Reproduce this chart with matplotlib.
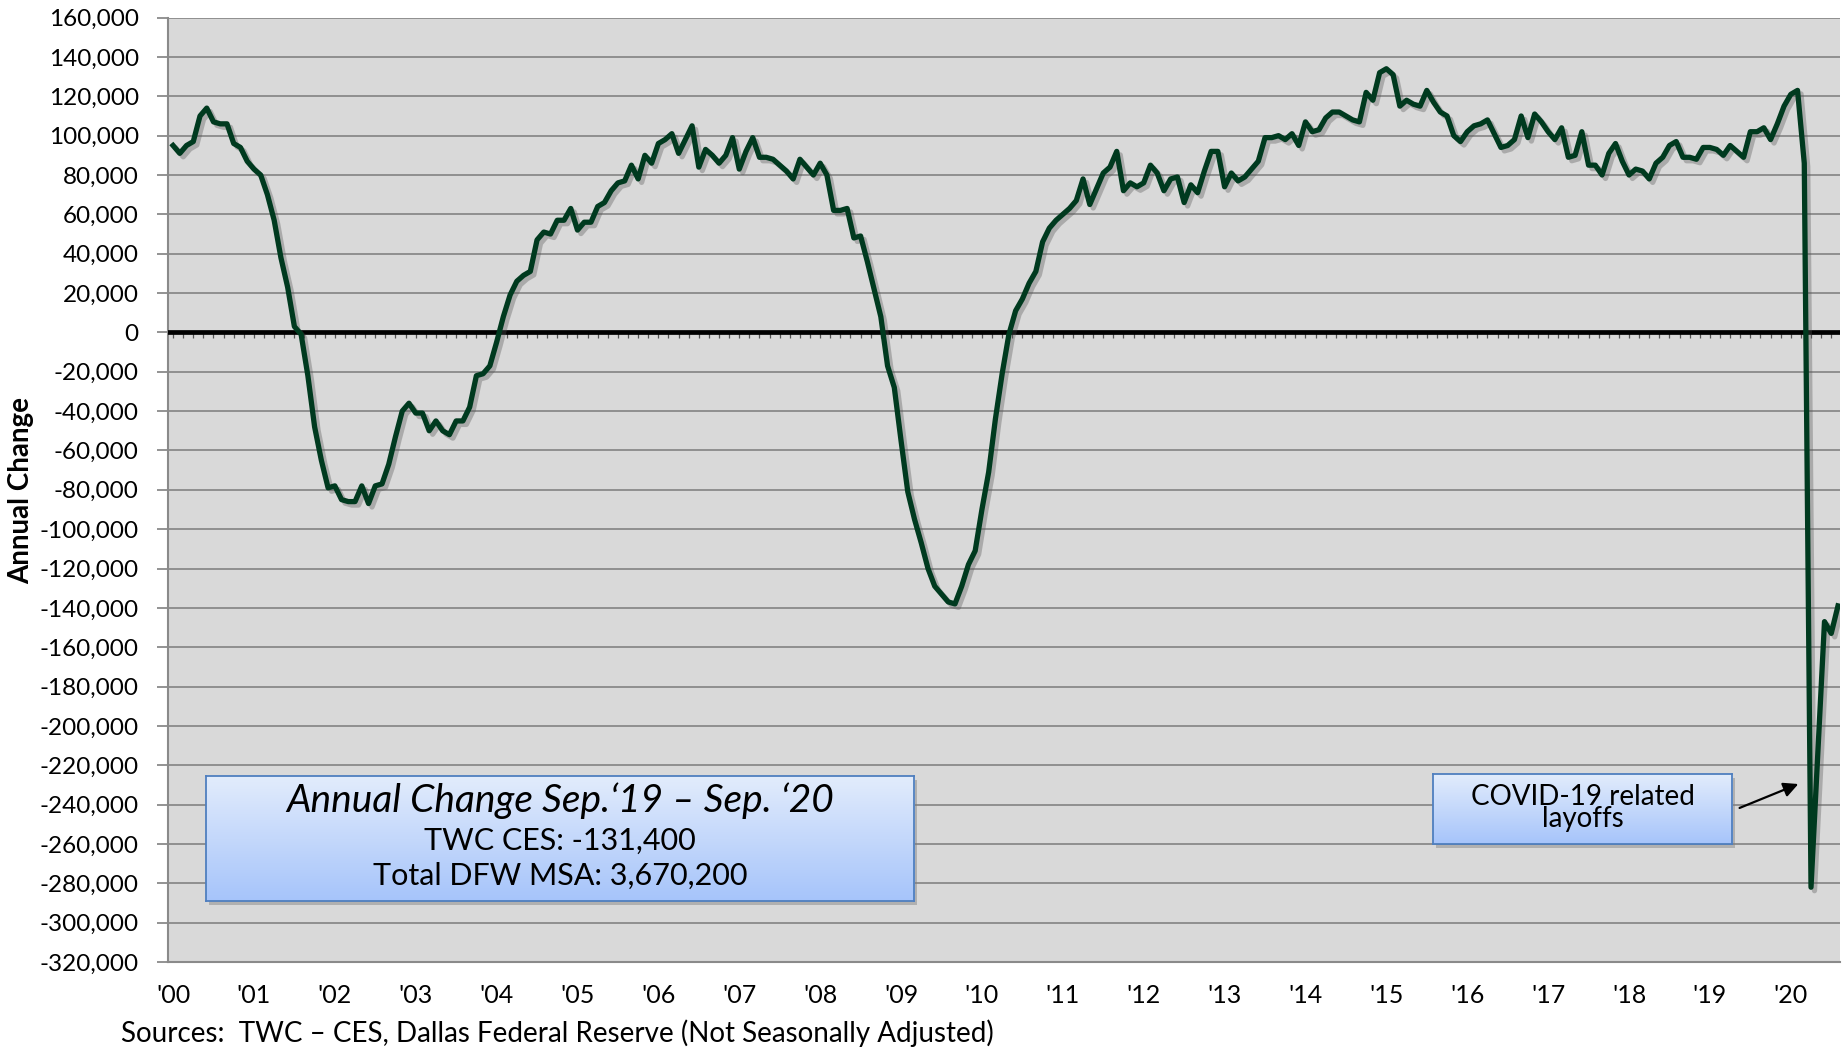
import numpy as np
import matplotlib
matplotlib.use("Agg")
import matplotlib.pyplot as plt
import matplotlib.patheffects as pe
from matplotlib.colors import LinearSegmentedColormap
from matplotlib.patches import Rectangle

plt.rcParams['font.family'] = ['Lato', 'DejaVu Sans']

# annual change in employment, thousands, monthly from Jan 2000
y2000 = [95, 91, 95, 97, 110, 114, 107, 106, 106, 96, 94, 87]
y2001 = [83, 80, 70, 57, 38, 23, 3, -1, -22, -48, -65, -79]
y2002 = [-78, -85, -86, -86, -78, -87, -78, -77, -67, -53, -40, -36]
y2003 = [-41, -41, -50, -45, -50, -52, -45, -45, -38, -22, -21, -17]
y2004 = [-5, 8, 19, 26, 29, 31, 47, 51, 50, 57, 57, 63]
y2005 = [52, 56, 56, 64, 66, 72, 76, 77, 85, 78, 90, 86]
y2006 = [96, 98, 101, 91, 98, 105, 84, 93, 90, 86, 90, 99]
y2007 = [83, 92, 99, 89, 89, 88, 85, 82, 78, 88, 84, 80]
y2008 = [86, 80, 62, 62, 63, 48, 49, 36, 22, 8, -17, -28]
y2009 = [-55, -81, -95, -107, -120, -129, -133, -137, -138, -129, -118, -111]
y2010 = [-90, -71, -44, -21, -1, 11, 17, 25, 31, 46, 53, 57]
y2011 = [60, 63, 67, 78, 65, 73, 81, 84, 92, 72, 76, 74]
y2012 = [76, 85, 81, 72, 78, 79, 66, 75, 71, 82, 92, 92]
y2013 = [74, 81, 77, 79, 83, 87, 99, 99, 100, 98, 101, 95]
y2014 = [107, 102, 103, 109, 112, 112, 110, 108, 107, 122, 118, 132]
y2015 = [134, 131, 115, 118, 116, 115, 123, 117, 112, 110, 100, 97]
y2016 = [102, 105, 106, 108, 101, 94, 95, 98, 110, 99, 111, 107]
y2017 = [102, 98, 104, 89, 90, 102, 85, 85, 80, 91, 96, 87]
y2018 = [80, 83, 82, 78, 86, 89, 95, 97, 89, 89, 88, 94]
y2019 = [94, 93, 90, 95, 92, 89, 102, 102, 104, 98, 106, 115]
y2020 = [121, 123, 86, -282, -215, -147, -153, -139]

year_labels = ["'%02d" % i for i in range(21)]
y_ticks = list(range(-320000, 160001, 20000))

values = np.array(y2000 + y2001 + y2002 + y2003 + y2004 + y2005 + y2006 + y2007 +
                  y2008 + y2009 + y2010 + y2011 + y2012 + y2013 + y2014 + y2015 +
                  y2016 + y2017 + y2018 + y2019 + y2020) * 1000
months = np.arange(len(values))

fig = plt.figure(figsize=(18.44, 10.5), dpi=100)
ax = fig.add_axes([168/1844, 88/1050, 1672/1844, 944.4/1050])
ax.set_facecolor('#d9d9d9')

# gridlines
ax.set_yticks(y_ticks)
ax.set_yticklabels(['{:,}'.format(v) for v in y_ticks])
ax.grid(axis='y', color='#8a8a8a', linewidth=1.3)
ax.set_axisbelow(True)

# zero axis with small month ticks
ax.axhline(0, color='black', linewidth=3.4, zorder=3)
minor = np.arange(0, len(values), 1.5)
ax.vlines(minor, -2600, 0, color='#555555', linewidth=0.9, zorder=2)

ax.plot(months, values, color='#003a1f', linewidth=3.8, zorder=4,
        solid_joinstyle='round',
        path_effects=[pe.SimpleLineShadow(offset=(2.5, -2.5), shadow_color='#555555', alpha=0.35),
                      pe.Normal()])

ax.set_xlim(-0.75, len(values) - 0.7)
ax.set_ylim(-320000, 160000)
ax.set_xticks(np.arange(0, 241, 12))
ax.set_xticklabels(year_labels)

for side in ['top', 'right']:
    ax.spines[side].set_visible(False)
for side in ['left', 'bottom']:
    ax.spines[side].set_color('#8a8a8a')
    ax.spines[side].set_linewidth(1.5)

ax.tick_params(axis='y', length=8, color='#8a8a8a', width=1.3, labelsize=17.5, pad=13)
ax.tick_params(axis='x', length=0, labelsize=18, pad=16)

fig.text(21/1844, 1 - 490/1050, 'Annual Change', rotation=90, fontsize=20,
         fontweight='bold', ha='center', va='center')
fig.text(121/1844, 1 - 1033/1050,
         'Sources:  TWC \u2013 CES, Dallas Federal Reserve (Not Seasonally Adjusted)',
         fontsize=20, ha='left', va='center')

cmap = LinearSegmentedColormap.from_list('box', ['#a6c4fa', '#e2ecfc'])
grad = np.linspace(0, 1, 256).reshape(-1, 1)


def gradient_box(rect):
    l, b, w, h = rect
    fig.patches.append(Rectangle((l + 3/1844, b - 4/1050), w, h, transform=fig.transFigure,
                                 facecolor='#7f7f7f', alpha=0.45, edgecolor='none', zorder=1))
    bx = fig.add_axes(rect, zorder=2)
    bx.imshow(grad, aspect='auto', cmap=cmap, extent=[0, 1, 0, 1], origin='lower')
    bx.set_xticks([])
    bx.set_yticks([])
    for s in bx.spines.values():
        s.set_color('#4f7fbf')
        s.set_linewidth(1.3)
    return bx


b1 = gradient_box([206/1844, 149/1050, 708/1844, 125/1050])
b1.text(0.5, 0.80, 'Annual Change Sep.\u201819 \u2013 Sep. \u201820', fontsize=28,
        style='italic', ha='center', va='center', transform=b1.transAxes)
b1.text(0.5, 0.48, 'TWC CES: -131,400', fontsize=22, ha='center', va='center',
        transform=b1.transAxes)
b1.text(0.5, 0.20, 'Total DFW MSA: 3,670,200', fontsize=22, ha='center', va='center',
        transform=b1.transAxes)

b2 = gradient_box([1433/1844, 206/1050, 299/1844, 70/1050])
b2.text(0.5, 0.52, 'COVID-19 related\nlayoffs', fontsize=20, ha='center', va='center',
        linespacing=0.8, transform=b2.transAxes)

ax.annotate('', xy=(241.5, -229000), xytext=(1737, 1050 - 809),
            textcoords='figure pixels', annotation_clip=False, zorder=6,
            arrowprops=dict(arrowstyle='-|>', color='black', lw=1.6, mutation_scale=22))

fig.savefig('out.png', dpi=100)
